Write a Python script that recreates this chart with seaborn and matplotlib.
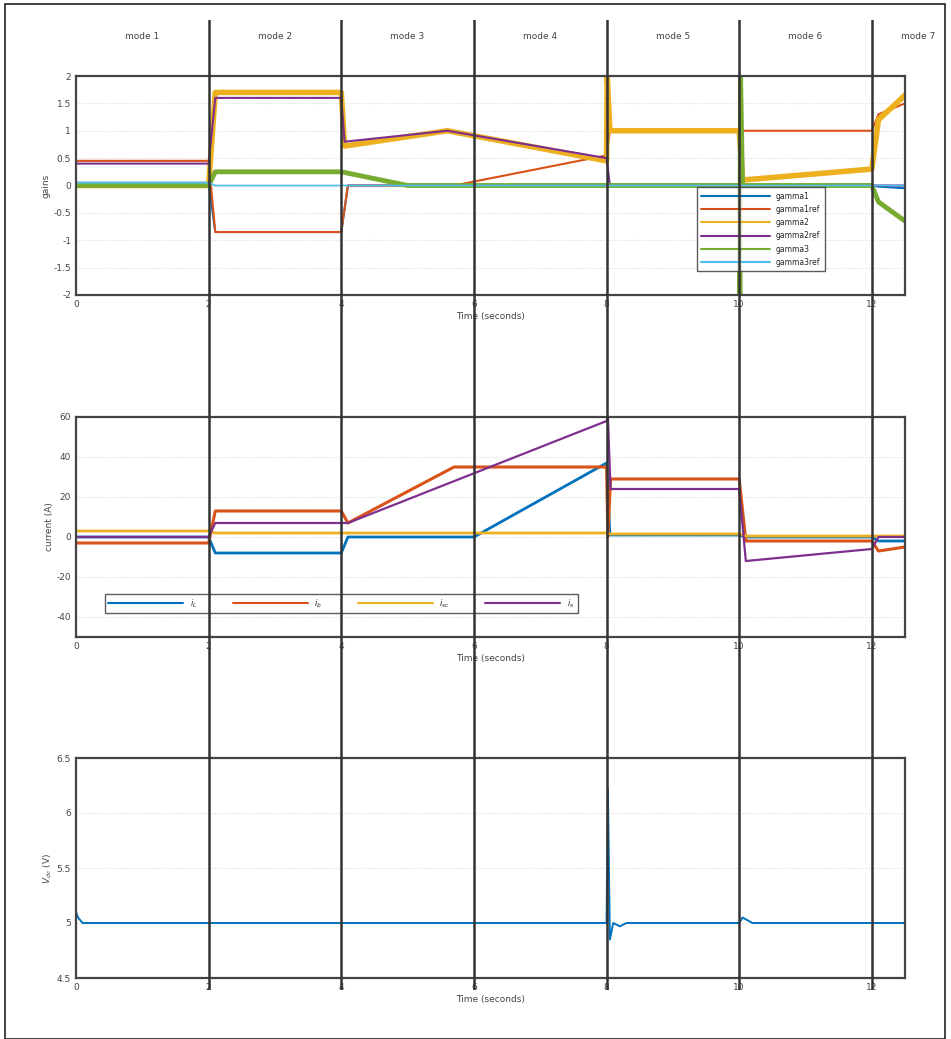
import matplotlib
matplotlib.use("Agg")
import matplotlib.pyplot as plt
import seaborn as sns
from matplotlib.patches import Rectangle
from matplotlib.ticker import FuncFormatter

sns.set_style("white")
plt.rcParams['font.family'] = ['DejaVu Sans']

# ---------------- data ----------------
mode_labels = ["mode 1", "mode 2", "mode 3", "mode 4", "mode 5", "mode 6", "mode 7"]
mode_bounds = [2, 4, 6, 8, 10, 12]
x_ticks = [0, 2, 4, 6, 8, 10, 12]

gain_names = ["gamma1", "gamma1ref", "gamma2", "gamma2ref", "gamma3", "gamma3ref"]
gamma1_t = [0, 2, 2.1, 4, 4.1, 12, 12.1, 12.5]
gamma1_v = [0.05, 0.05, -0.85, -0.85, 0.0, 0.0, -0.02, -0.05]
gamma1ref_t = [0, 2, 2.1, 4, 4.1, 5.7, 8, 8.05, 10, 10.05, 12, 12.1, 12.5]
gamma1ref_v = [0.45, 0.45, -0.85, -0.85, 0.0, 0.0, 0.55, 1.0, 1.0, 1.0, 1.0, 1.3, 1.5]
gamma2_t = [0, 2, 2.1, 4, 4.05, 5.6, 8, 8.01, 8.05, 10, 10.05, 12, 12.1, 12.5]
gamma2_v = [0.0, 0.0, 1.7, 1.7, 0.72, 1.0, 0.45, 2.0, 1.0, 1.0, 0.1, 0.3, 1.2, 1.65]
gamma2ref_t = [0, 2, 2.1, 4, 4.05, 5.6, 8, 8.05, 12, 12.5]
gamma2ref_v = [0.4, 0.4, 1.6, 1.6, 0.8, 1.0, 0.5, 0.0, 0.0, 0.0]
gamma3_t = [0, 2, 2.1, 4, 5.0, 10, 10.01, 10.02, 10.05, 12, 12.1, 12.5]
gamma3_v = [0.0, 0.0, 0.25, 0.25, 0.0, 0.0, -2.0, 2.0, 0.0, 0.0, -0.3, -0.65]
gamma3ref_t = [0, 2, 2.1, 12.5]
gamma3ref_v = [0.05, 0.05, 0.0, 0.0]

current_names = ["$i_L$", "$i_b$", "$i_{sc}$", "$i_s$"]
iL_t = [0, 2, 2.1, 4, 4.1, 6, 8, 8.05, 10, 10.1, 12, 12.1, 12.5]
iL_v = [0, 0, -8, -8, 0, 0, 37, 1, 1, 0, 0, -2, -2]
ib_t = [0, 2, 2.1, 4, 4.1, 5.7, 8, 8.02, 8.06, 10, 10.1, 12, 12.1, 12.5]
ib_v = [-3, -3, 13, 13, 7, 35, 35, 0, 29, 29, -2, -2, -7, -5]
isc_t = [0, 2, 2.1, 8, 8.05, 10, 10.1, 12.5]
isc_v = [3, 3, 2, 2, 1.5, 1.5, 0.5, 0.5]
is_t = [0, 2, 2.1, 4, 4.1, 8, 8.02, 8.06, 10, 10.1, 12, 12.1, 12.5]
is_v = [0, 0, 7, 7, 7, 58, 60, 24, 24, -12, -6, 0, 0]

vdc_t = [0, 0.03, 0.1, 8, 8.02, 8.05, 8.1, 8.2, 8.3, 10, 10.05, 10.2, 12.5]
vdc_v = [5.1, 5.05, 5.0, 5.0, 6.22, 4.85, 5.0, 4.97, 5.0, 5.0, 5.05, 5.0, 5.0]

# ---------------- styling ----------------
C = ["#0072BD", "#D95319", "#EDB120", "#7E2F8E", "#77AC30", "#4DBEEE"]
W, H = 951, 1039
fig = plt.figure(figsize=(W / 100, H / 100), dpi=100)

def fx(px):
    return px / W

def fy(py):
    return 1 - py / H

left, right = 76, 905
axes_spec = [(76, 295), (417, 637), (758, 978)]
axs = []
for top, bot in axes_spec:
    ax = fig.add_axes([fx(left), fy(bot), fx(right - left), (bot - top) / H])
    axs.append(ax)

gfmt = FuncFormatter(lambda v, p: f"{v:g}")

def style(ax, yticks, ylim, ylabel):
    ax.set_xlim(0, 12.5)
    ax.set_ylim(*ylim)
    ax.set_xticks(x_ticks)
    ax.set_yticks(yticks)
    ax.xaxis.set_major_formatter(gfmt)
    ax.yaxis.set_major_formatter(gfmt)
    ax.tick_params(labelsize=6.5, colors="#444444", length=3, direction="in")
    ax.grid(True, color="#d8d8d8", linestyle=":", linewidth=0.8)
    for s in ax.spines.values():
        s.set_color("#444444")
        s.set_linewidth(1.6)
    ax.set_xlabel("Time (seconds)", fontsize=6.5, color="#444444", labelpad=2)
    ax.set_ylabel(ylabel, fontsize=6.5, color="#444444", labelpad=2)

# top: gains
gains = [(gamma1_t, gamma1_v, 1.5), (gamma1ref_t, gamma1ref_v, 1.5),
         (gamma2_t, gamma2_v, 4.0), (gamma2ref_t, gamma2ref_v, 1.5),
         (gamma3_t, gamma3_v, 3.5), (gamma3ref_t, gamma3ref_v, 1.2)]
ax = axs[0]
for (t, v, lw), name, c in zip(gains, gain_names, C):
    sns.lineplot(x=t, y=v, ax=ax, color=c, linewidth=lw, sort=False,
                 estimator=None, label=name)
style(ax, [-2, -1.5, -1, -0.5, 0, 0.5, 1, 1.5, 2], (-2, 2), "gains")
leg = ax.legend(loc="upper left", bbox_to_anchor=(0.744, 0.51), fontsize=5.5,
                frameon=True, fancybox=False, edgecolor="#333333",
                handlelength=9, labelspacing=0.55, borderpad=0.6)
for lh in leg.get_lines():
    lh.set_linewidth(1.5)

# middle: currents
ax = axs[1]
for (t, v), name, c, lw in zip([(iL_t, iL_v), (ib_t, ib_v), (isc_t, isc_v), (is_t, is_v)],
                               current_names, C[:4], [2.0, 2.2, 2.0, 1.6]):
    sns.lineplot(x=t, y=v, ax=ax, color=c, linewidth=lw, sort=False,
                 estimator=None, label=name)
style(ax, [-40, -20, 0, 20, 40, 60], (-50, 60), "current (A)")
leg = ax.legend(loc="lower left", bbox_to_anchor=(0.03, 0.09, 0.58, 0.11),
                mode="expand", ncol=4, fontsize=6, frameon=True, fancybox=False,
                edgecolor="#333333", handlelength=9, borderpad=0.4)
for lh in leg.get_lines():
    lh.set_linewidth(1.5)

# bottom: dc voltage
ax = axs[2]
sns.lineplot(x=vdc_t, y=vdc_v, ax=ax, color=C[0], linewidth=1.4, sort=False,
             estimator=None)
style(ax, [4.5, 5.0, 5.5, 6.0, 6.5], (4.5, 6.5), "$V_{dc}$ (V)")

# overlay with mode boundaries
ov = fig.add_axes([fx(left), fy(990), fx(right - left), (990 - 20) / H])
ov.set_xlim(0, 12.5)
ov.set_ylim(0, 1)
ov.axis("off")
ov.patch.set_alpha(0)
for b in mode_bounds:
    ov.axvline(b, color="#333333", linewidth=1.8)
edges = [0] + mode_bounds + [13.4]
label_y = 1 - (37 - 20) / (990 - 20)
for lab, a, b in zip(mode_labels, edges[:-1], edges[1:]):
    ov.text((a + b) / 2, label_y, lab,
            ha="center", va="center", fontsize=6.5, color="#444444", clip_on=False)

# outer frame
fig.patches.append(Rectangle((fx(5), 0), fx(940), fy(4), transform=fig.transFigure,
                             fill=False, edgecolor="#222222", linewidth=1.2))

fig.savefig("out.png", dpi=100)
